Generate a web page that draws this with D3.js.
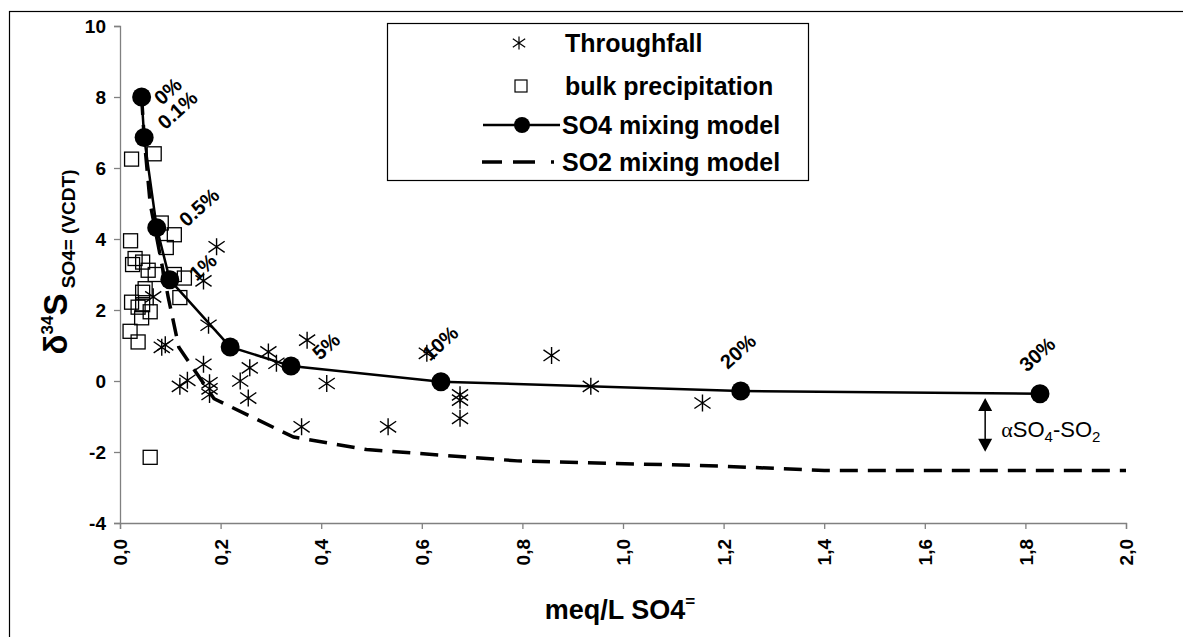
<!DOCTYPE html>
<html><head><meta charset="utf-8">
<script src="https://cdn.jsdelivr.net/npm/d3@7"></script>
<style>body{margin:0;background:#fff} svg{display:block}</style>
</head><body><svg id="c" width="1183" height="637"></svg>
<script>
// ---------- data ----------
const throughfall = [
  [0.192,3.78],[0.166,2.82],[0.066,2.37],[0.176,1.57],[0.083,0.95],[0.090,1.02],
  [0.166,0.47],[0.119,-0.15],[0.134,0.02],[0.178,-0.05],[0.178,-0.22],[0.178,-0.38],
  [0.239,0.00],[0.258,0.37],[0.255,-0.48],[0.295,0.82],[0.311,0.50],[0.372,1.15],
  [0.411,-0.07],[0.361,-1.29],[0.610,0.78],[0.533,-1.29],[0.676,-0.39],[0.676,-0.54],
  [0.676,-1.05],[0.858,0.72],[0.936,-0.15],[1.158,-0.62]
];
const bulk = [
  [0.023,6.25],[0.068,6.40],[0.021,3.95],[0.082,4.45],[0.108,4.12],[0.092,3.76],
  [0.030,3.45],[0.025,3.28],[0.045,3.35],[0.056,3.12],[0.070,3.00],[0.108,3.00],
  [0.128,2.90],[0.050,2.60],[0.045,2.50],[0.119,2.35],[0.023,2.22],[0.036,2.08],
  [0.045,2.15],[0.060,1.95],[0.043,1.78],[0.020,1.40],[0.036,1.10],[0.060,-2.15]
];
const so4Model = [
  [0.043,8.00],[0.048,6.86],[0.073,4.32],[0.099,2.85],[0.219,0.96],
  [0.340,0.42],[0.638,-0.02],[1.234,-0.28],[1.829,-0.36]
];
const so4Labels = ["0%","0.1%","0.5%","1%",null,"5%","10%","20%","30%"];
const so2Model = [
  [0.043,8.00],[0.048,6.86],[0.060,5.00],[0.096,2.35],[0.117,0.95],[0.187,-0.50],
  [0.345,-1.58],[0.490,-1.93],[0.790,-2.25],[1.200,-2.40],[1.400,-2.52],[2.000,-2.52]
];
const xTicks = [0,0.2,0.4,0.6,0.8,1.0,1.2,1.4,1.6,1.8,2.0];
const yTicks = [-4,-2,0,2,4,6,8,10];
const legendNames = ["Throughfall","bulk precipitation","SO4 mixing model","SO2 mixing model"];

// ---------- layout ----------
const svg = d3.select("#c");
const FONT = "'Liberation Sans', Arial, sans-serif";
svg.append("rect").attr("width",1183).attr("height",637).attr("fill","#fff");
svg.append("rect").attr("x",9.5).attr("y",11.5).attr("width",1300).attr("height",800)
   .attr("fill","none").attr("stroke","#000").attr("stroke-width",1.2);

const x = d3.scaleLinear().domain([0,2]).range([120,1126]);
const y = d3.scaleLinear().domain([-4,10]).range([523,26]);

// axes
const gy = svg.append("g").attr("transform","translate(120,0)")
  .call(d3.axisLeft(y).tickValues(yTicks).tickSize(6).tickPadding(8).tickFormat(d=>String(d)));
const gx = svg.append("g").attr("transform","translate(0,523)")
  .call(d3.axisBottom(x).tickValues(xTicks).tickSize(6).tickFormat(d=>d3.format(".1f")(d).replace(".",",")));
[gx,gy].forEach(g=>{
  g.select(".domain").attr("stroke","#808080").attr("stroke-width",1.3);
  g.selectAll(".tick line").attr("stroke","#808080").attr("stroke-width",1.3);
  g.selectAll(".tick text").attr("fill","#000").attr("font-family",FONT)
    .attr("font-weight","bold").attr("font-size",19);
});
gx.selectAll(".tick text").attr("text-anchor","end").attr("y",0).attr("dy","0.35em")
  .attr("transform","translate(0,16) rotate(-90)");

// SO2 dashed line
const line = d3.line().x(d=>x(d[0])).y(d=>y(d[1]));
svg.append("path").datum(so2Model).attr("d",line).attr("fill","none")
  .attr("stroke","#000").attr("stroke-width",3.5).attr("stroke-dasharray","18,10");

// SO4 solid line
svg.append("path").datum(so4Model).attr("d",line).attr("fill","none")
  .attr("stroke","#000").attr("stroke-width",2.5);

// bulk squares
const sq = 14;
svg.append("g").selectAll("rect").data(bulk).join("rect")
  .attr("x",d=>x(d[0])-sq/2).attr("y",d=>y(d[1])-sq/2).attr("width",sq).attr("height",sq)
  .attr("fill","none").attr("stroke","#000").attr("stroke-width",1.3);

// throughfall asterisks
function star(s){ return `M0,${-s}V${s}M${-s*0.95},${-s*0.65}L${s*0.95},${s*0.65}M${-s*0.95},${s*0.65}L${s*0.95},${-s*0.65}`; }
svg.append("g").selectAll("path").data(throughfall).join("path")
  .attr("transform",d=>`translate(${x(d[0])},${y(d[1])})`).attr("d",star(8.5))
  .attr("fill","none").attr("stroke","#000").attr("stroke-width",1.4);

// SO4 dots
svg.append("g").selectAll("circle").data(so4Model).join("circle")
  .attr("cx",d=>x(d[0])).attr("cy",d=>y(d[1])).attr("r",9.5).attr("fill","#000");

// percentage labels
const labOff = [[20,9],[21,-7],[30,0],[27,2],[0,0],[29,-5],[-11,-20],[-13,-21],[-13,-21]];
svg.append("g").selectAll("text").data(so4Model.map((d,i)=>({d,i,t:so4Labels[i]})).filter(o=>o.t))
  .join("text")
  .attr("transform",o=>`translate(${x(o.d[0])+labOff[o.i][0]},${y(o.d[1])+labOff[o.i][1]}) rotate(-42)`)
  .attr("font-family",FONT).attr("font-weight","bold").attr("font-size",20).text(o=>o.t);

// annotation arrow
const ax = x(1.72), ay1 = y(-0.48), ay2 = y(-1.99);
svg.append("line").attr("x1",ax).attr("x2",ax).attr("y1",ay1+10).attr("y2",ay2-10)
  .attr("stroke","#000").attr("stroke-width",1.5);
svg.append("path").attr("d",`M${ax},${ay1}l-7,13h14z M${ax},${ay2}l-7,-13h14z`).attr("fill","#000");
const ann = svg.append("text").attr("x",x(1.752)).attr("y",y(-1.58))
  .attr("font-family",FONT).attr("font-size",22);
ann.append("tspan").attr("font-family","'Liberation Serif', serif").text("α");
ann.append("tspan").text("SO");
ann.append("tspan").attr("font-size",15).attr("dy",5).text("4");
ann.append("tspan").attr("dy",-5).text("-SO");
ann.append("tspan").attr("font-size",15).attr("dy",5).text("2");

// axis titles
const yt = svg.append("text").attr("transform","translate(67,262) rotate(-90)")
  .attr("text-anchor","middle").attr("font-family",FONT).attr("font-weight","bold");
yt.append("tspan").attr("font-size",33).text("δ");
yt.append("tspan").attr("font-size",17).attr("dy",-14).text("34");
yt.append("tspan").attr("font-size",33).attr("dy",14).text("S");
yt.append("tspan").attr("font-size",19).attr("dy",8).text(" SO4= (VCDT)");

const xt = svg.append("text").attr("x",620).attr("y",619).attr("text-anchor","middle")
  .attr("font-family",FONT).attr("font-weight","bold").attr("font-size",27);
xt.append("tspan").text("meq/L SO4");
xt.append("tspan").attr("font-size",17).attr("dy",-12).text("=");

// legend
svg.append("rect").attr("x",387.5).attr("y",23.5).attr("width",421).attr("height",157)
  .attr("fill","#fff").attr("stroke","#000").attr("stroke-width",1.2);
const rowsY = [43,86,125,162];
const lg = svg.append("g");
lg.selectAll("text").data(legendNames).join("text")
  .attr("x",(d,i)=>i<2?565:562).attr("y",(d,i)=>rowsY[i]).attr("dy","0.35em")
  .attr("font-family",FONT).attr("font-weight","bold").attr("font-size",25).text(d=>d);
lg.append("path").attr("transform",`translate(519,${rowsY[0]})`).attr("d",star(6.5))
  .attr("fill","none").attr("stroke","#000").attr("stroke-width",1.2);
lg.append("rect").attr("x",515).attr("y",rowsY[1]-6).attr("width",12).attr("height",12)
  .attr("fill","none").attr("stroke","#000").attr("stroke-width",1.2);
lg.append("line").attr("x1",483).attr("x2",560).attr("y1",rowsY[2]).attr("y2",rowsY[2])
  .attr("stroke","#000").attr("stroke-width",2.5);
lg.append("circle").attr("cx",522).attr("cy",rowsY[2]).attr("r",8).attr("fill","#000");
lg.append("line").attr("x1",482).attr("x2",554).attr("y1",rowsY[3]).attr("y2",rowsY[3])
  .attr("stroke","#000").attr("stroke-width",3.5).attr("stroke-dasharray","20,11,22,16");
</script></body></html>
